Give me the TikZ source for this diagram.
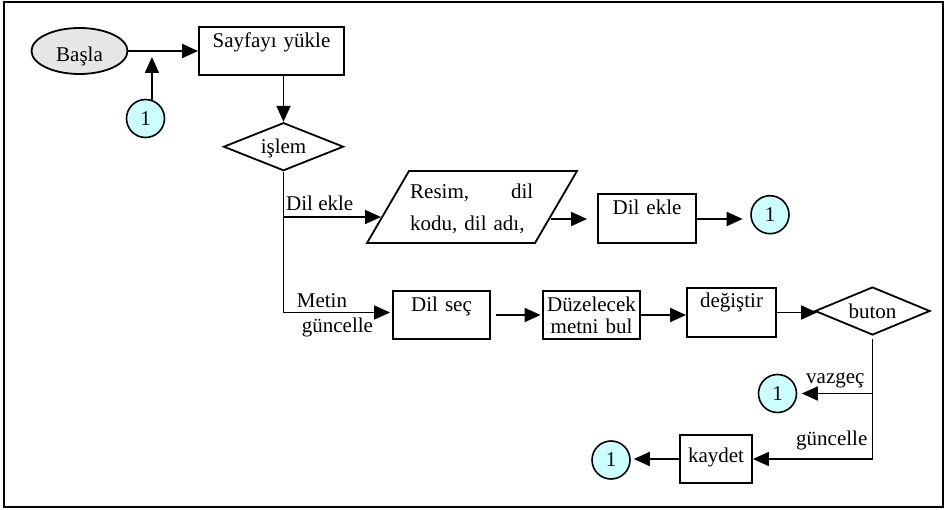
\documentclass[tikz,border=0pt]{standalone}
\usepackage{fontspec}
\setmainfont{Liberation Serif}
\usetikzlibrary{arrows.meta,shapes.geometric}
\definecolor{startfill}{RGB}{230,230,230}
\definecolor{linkfill}{RGB}{204,255,255}
\begin{document}
\begin{tikzpicture}[x=1pt,y=-1pt,
  font=\fontsize{21}{22}\selectfont,
  every node/.style={inner sep=0pt},
  line/.style={line width=1.8pt},
  arr/.style={line, -{Triangle[length=16pt,width=14pt]}},
  box/.style={draw, line width=1.8pt, rectangle, align=center},
  decision/.style={draw, line width=1.8pt, diamond, aspect=2.5, text depth=0pt},
  link/.style={draw, line width=1.6pt, circle, fill=linkfill, minimum size=38pt},
  tag/.style={anchor=base west},
]
\useasboundingbox (0,0) rectangle (947,510);
\draw[line width=1.8pt] (4,2) rectangle (943,507);

% start and page loading
\node[draw, line width=1.8pt, ellipse, fill=startfill, minimum width=96pt,
      minimum height=46pt, text height=21.4pt, text depth=0pt] (basla) at (79.5,51) {Başla};
\node[box, text width=145pt, text height=21pt, text depth=27pt, anchor=base] (sayfa) at (271.5,48) {Sayfayı yükle};
\node[link] (c1) at (145.5,118.5) {1};
\coordinate (j1) at (152,57);
\node[decision, minimum width=120pt, minimum height=48pt] (islem) at (283.5,146.7) {işlem};

% language adding branch
\draw[line] (367,243) -- (409,171) -- (577,171) -- (535,243) -- cycle;
\node[text width=123pt, align=left, anchor=base west] (param) at (410,198.3) {Resim,\hfill dil\\[10pt]kodu, dil adı,};
\coordinate (pin) at (381,217);
\coordinate (pout) at (551,219);
\node[box, text width=98pt, text height=21pt, text depth=28pt, anchor=base] (dilekle) at (647,215) {Dil ekle};
\node[link] (c2) at (770,214.7) {1};

% text update branch
\node[box, text width=97pt, text height=21pt, text depth=27.6pt, anchor=base] (dilsec) at (441.5,311.7) {Dil seç};
\node[box, text width=97pt, text height=21pt, text depth=27.6pt, anchor=base] (duzel) at (591.5,311.7) {Düzelecek\\metni bul};
\node[box, text width=89pt, text height=19pt, text depth=29.4pt, anchor=base] (degistir) at (731.5,307.3) {değiştir};
\node[decision, minimum width=115pt, minimum height=48pt] (buton) at (872.5,311) {buton};
\node[link] (c3) at (777.5,393.5) {1};
\node[box, text width=72pt, text height=27pt, text depth=21pt, anchor=base] (kaydet) at (716,462) {kaydet};
\node[link] (c4) at (611,460) {1};

% branch labels
\node[tag] (tDil) at (286,210.7) {Dil ekle};
\node[tag] (tMetin) at (296.7,308) {Metin};
\node[tag] (tGunc) at (301.7,333) {güncelle};
\node[tag] (tVaz) at (806,383.3) {vazgeç};
\node[tag] (tKay) at (796,445) {güncelle};

% connectors
\draw[arr] (basla) -- (sayfa);
\draw[arr] (c1.71) -- (c1.71 |- j1);
\draw[arr] (sayfa.south -| islem.north) -- (islem.north);
\draw[arr, shorten >=2pt] (islem.south) |- ([yshift=2.5pt]dilsec.west);
\draw[arr] (islem.south |- pin) -- (pin);
\draw[arr, shorten >=10pt] (pout) -- (pout -| dilekle.west);
\draw[arr, shorten >=7.5pt] (dilekle.east |- pout) -- (pout -| c2.west);
\draw[arr, shorten <=5pt, shorten >=1.5pt] (dilsec) -- (duzel);
\draw[arr] (duzel.east) -- (duzel.east -| degistir.west);
\draw[arr, shorten >=-3pt] (degistir.east) -- (degistir.east -| buton.west);
\draw[arr, shorten <=3pt] (buton.south) |- (kaydet.east);
\draw[arr, shorten >=4.5pt] (buton.south |- c3) -- (c3.east);
\draw[arr, shorten >=3pt] (kaydet.west) -- (kaydet.west -| c4.east);
\end{tikzpicture}
\end{document}
